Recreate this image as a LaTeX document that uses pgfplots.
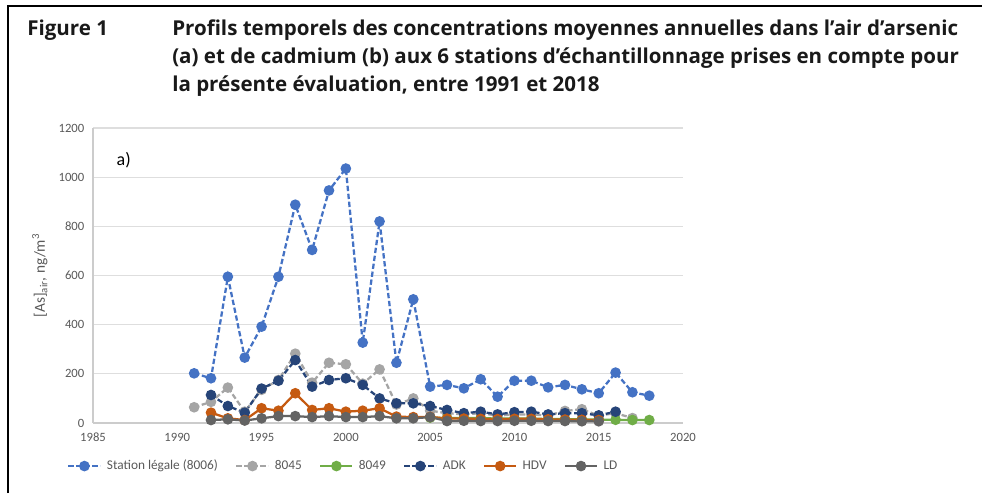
\documentclass[border=0pt]{standalone}
\usepackage{pgfplots}
\pgfplotsset{compat=1.18}
\usepackage{fontspec}
\setmainfont{Carlito}
\newfontfamily\titlefont{Open Sans}
\definecolor{cStation}{HTML}{4472C4}
\definecolor{c8045}{HTML}{A5A5A5}
\definecolor{c8049}{HTML}{70AD47}
\definecolor{cADK}{HTML}{264478}
\definecolor{cHDV}{HTML}{C55A11}
\definecolor{cLD}{HTML}{636363}
\definecolor{tick}{HTML}{595959}
\begin{document}
\begin{tikzpicture}[x=0.75pt,y=0.75pt]
\useasboundingbox (0,0) rectangle (982,493);
\draw[line width=1.5pt] (8,0) -- (8,487) -- (982,487);
\tikzset{ttl/.style={anchor=base west, inner sep=0pt, font=\titlefont\bfseries\fontsize{15.4}{18}\selectfont, text=black!90}}
\node[ttl] at (27,493-36) {Figure 1};
\node[ttl] at (172,493-36) {Profils temporels des concentrations moyennes annuelles dans l’air d’arsenic};
\node[ttl] at (172,493-64) {(a) et de cadmium (b) aux 6 stations d’échantillonnage prises en compte pour};
\node[ttl] at (172,493-92) {la présente évaluation, entre 1991 et 2018};
\begin{axis}[
  at={(69.75pt,52.5pt)}, anchor=south west, scale only axis,
  width=442.5pt, height=221.25pt,
  xmin=1985, xmax=2020, ymin=0, ymax=1200,
  xtick={1985,1990,...,2020}, ytick={0,200,...,1200},
  ymajorgrids, grid style={line width=0.9pt, color=black!13},
  axis x line*=bottom, axis y line*=left,
  axis line style={black!20, line width=0.8pt},
  tick style={draw=none},
  tick label style={font=\fontsize{9.5}{11}\selectfont, text=tick},
  xticklabel style={yshift=-4pt},
  yticklabel style={xshift=-3pt},
  /pgf/number format/1000 sep={},
  /pgf/number format/assume math mode=true,
  ylabel={[As]\textsubscript{air}, ng/m\textsuperscript{3}},
  ylabel style={at={(axis description cs:-0.09,0.5)}, anchor=center, font=\fontsize{11.5}{13}\selectfont, text=tick},
  legend columns=6,
  legend style={at={(axis description cs:-0.044,-0.146)}, anchor=west, draw=none, fill=none,
    font=\fontsize{10}{12}\selectfont, text=tick, inner sep=0pt,
    /tikz/every odd column/.append style={column sep=2pt},
    /tikz/every even column/.append style={column sep=11pt}},
  legend image code/.code={\draw[mark repeat=2,mark phase=2,#1] plot coordinates {(0pt,0pt) (12pt,0pt) (24pt,0pt)};},
  every axis plot/.append style={line width=1.7pt, mark=*, mark size=3.1pt},
  clip=false
]
\addplot[color=cStation, dash pattern=on 4pt off 2pt, mark options={solid}] coordinates {
(1991,202)(1992,182)(1993,595)(1994,266)(1995,392)(1996,595)(1997,888)(1998,704)(1999,946)(2000,1035)
(2001,327)(2002,820)(2003,245)(2004,503)(2005,148)(2006,155)(2007,141)(2008,178)(2009,107)(2010,172)
(2011,172)(2012,145)(2013,155)(2014,137)(2015,121)(2016,205)(2017,125)(2018,111)};
\addlegendentry{Station légale (8006)}
\addplot[color=c8045, dash pattern=on 4pt off 2pt, mark options={solid}] coordinates {
(1991,64)(1992,86)(1993,144)(1994,46)(1995,135)(1996,175)(1997,282)(1998,164)(1999,245)(2000,239)
(2001,160)(2002,218)(2003,75)(2004,100)(2005,50)(2006,40)(2007,35)(2008,40)(2009,30)(2010,35)
(2011,35)(2012,30)(2013,49)(2014,56)(2015,30)(2016,40)(2017,20)};
\addlegendentry{8045}
\addplot[color=c8049] coordinates {
(2005,22)(2006,20)(2007,20)(2008,20)(2009,18)(2010,18)(2011,18)(2012,16)(2013,16)(2014,15)
(2015,14)(2016,13)(2017,12)(2018,12)};
\addlegendentry{8049}
\addplot[color=cADK, dash pattern=on 4pt off 2pt, mark options={solid}] coordinates {
(1992,114)(1993,69)(1994,42)(1995,140)(1996,172)(1997,256)(1998,148)(1999,175)(2000,182)(2001,155)
(2002,100)(2003,80)(2004,80)(2005,69)(2006,53)(2007,40)(2008,46)(2009,35)(2010,44)(2011,46)
(2012,35)(2013,40)(2014,40)(2015,31)(2016,46)};
\addlegendentry{ADK}
\addplot[color=cHDV] coordinates {
(1992,42)(1993,19)(1994,12)(1995,60)(1996,50)(1997,121)(1998,53)(1999,60)(2000,46)(2001,50)
(2002,60)(2003,26)(2004,24)(2005,25)(2006,18)(2007,18)(2008,17)(2009,16)(2010,17)(2011,17)
(2012,15)(2013,14)(2014,13)(2015,12)};
\addlegendentry{HDV}
\addplot[color=cLD] coordinates {
(1992,12)(1993,15)(1994,10)(1995,19)(1996,28)(1997,28)(1998,24)(1999,28)(2000,24)(2001,24)
(2002,28)(2003,19)(2004,19)(2005,24)(2006,8)(2007,9)(2008,8)(2009,8)(2010,9)(2011,9)
(2012,8)(2013,8)(2014,7)(2015,7)};
\addlegendentry{LD}
\node[anchor=center, font=\fontsize{13.5}{15}\selectfont] at (axis description cs:0.052,0.89) {a)};
\end{axis}
\end{tikzpicture}
\end{document}
